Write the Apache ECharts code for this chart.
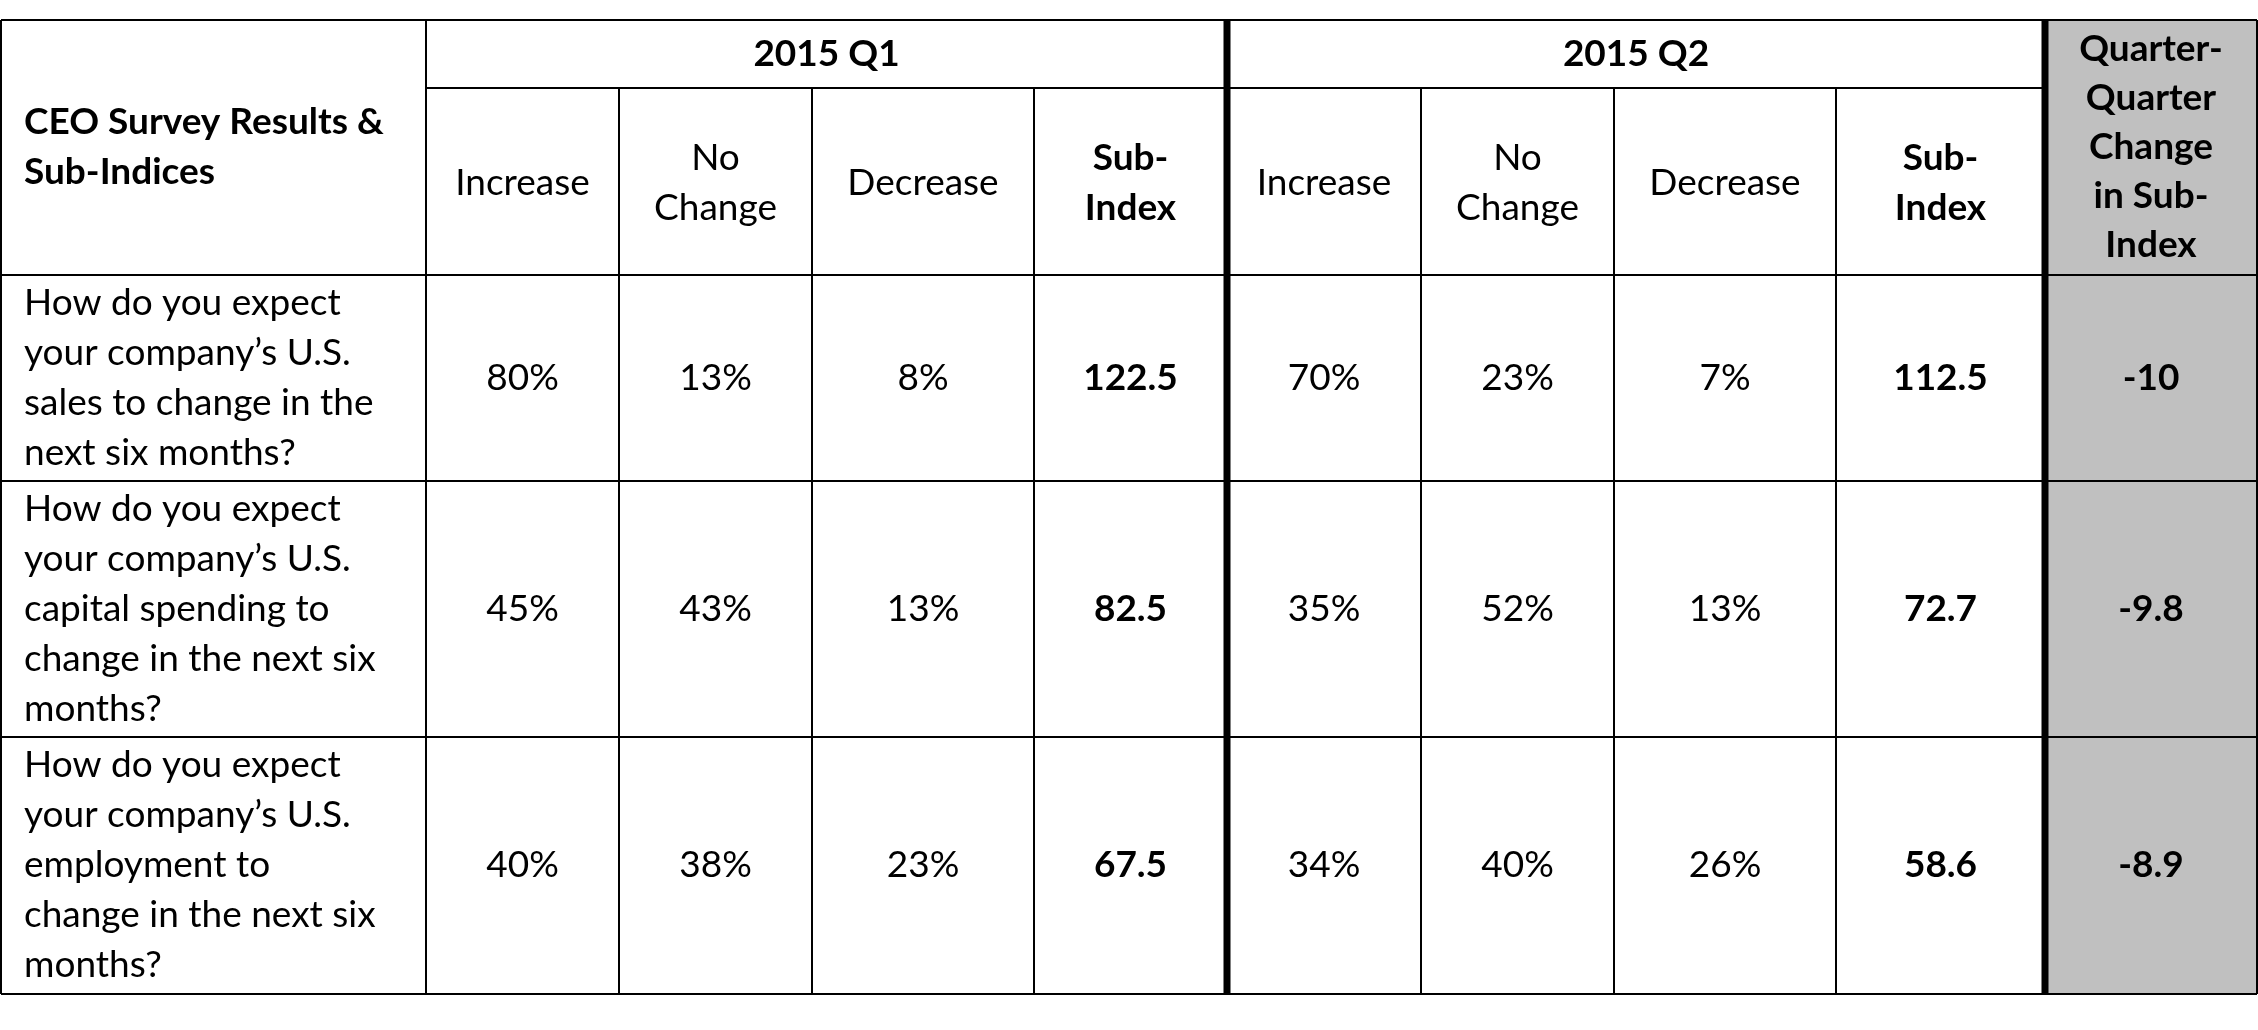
<!DOCTYPE html>
<html>
<head>
<meta charset="utf-8">
<script src="https://cdn.jsdelivr.net/npm/echarts@6/dist/echarts.min.js"></script>
<style>html,body{margin:0;background:#fff}#c{width:2258px;height:1030px}</style>
</head>
<body>
<div id="c"></div>
<script>
// table content
const title = 'CEO Survey Results &\nSub-Indices'
const groups = ['2015 Q1', '2015 Q2']
const subHeaders = ['Increase', 'No\nChange', 'Decrease', 'Sub-\nIndex']
const changeHeader = 'Quarter-\nQuarter\nChange\nin Sub-\nIndex'
const questions = [
  'How do you expect\nyour company\u2019s U.S.\nsales to change in the\nnext six months?',
  'How do you expect\nyour company\u2019s U.S.\ncapital spending to\nchange in the next six\nmonths?',
  'How do you expect\nyour company\u2019s U.S.\nemployment to\nchange in the next six\nmonths?'
]
const q1Values = [['80%', '13%', '8%', '122.5'], ['45%', '43%', '13%', '82.5'], ['40%', '38%', '23%', '67.5']]
const q2Values = [['70%', '23%', '7%', '112.5'], ['35%', '52%', '13%', '72.7'], ['34%', '40%', '26%', '58.6']]
const qoqChange = ['-10', '-9.8', '-8.9']

// grid layout
const colX = [1, 426, 619, 812, 1034, 1227, 1421, 1614, 1836, 2045, 2257]
const rowY = [20, 88, 275, 481, 737, 994]
const thick = [1, 5, 9]
const font = 'Lato, "Open Sans", sans-serif'

const els = []
function text(x, y, s, opt) {
  els.push({
    type: 'text', x: x, y: y, silent: true,
    style: Object.assign({
      text: s, fill: '#000', font: '37px ' + font, fontFamily: font, fontSize: 37,
      align: 'center', verticalAlign: 'middle', lineHeight: 50
    }, opt || {})
  })
}
function line(x1, y1, x2, y2, w) {
  els.push({ type: 'line', silent: true, shape: { x1: x1, y1: y1, x2: x2, y2: y2 }, style: { stroke: '#000', lineWidth: w } })
}

// gray change column
els.push({ type: 'rect', shape: { x: colX[9], y: rowY[0], width: colX[10] - colX[9], height: rowY[5] - rowY[0] }, style: { fill: '#c0c0c0' } })

const mid = (a, b) => (a + b) / 2
text(24, mid(rowY[0], rowY[2]), title, { align: 'left', fontWeight: 'bold' })
groups.forEach((g, i) => {
  text(mid(colX[1 + i * 4], colX[5 + i * 4]), mid(rowY[0], rowY[1]), g, { fontWeight: 'bold' })
  subHeaders.forEach((h, j) => {
    text(mid(colX[1 + i * 4 + j], colX[2 + i * 4 + j]), mid(rowY[1], rowY[2]) + 2, h, { fontWeight: j === 3 ? 'bold' : 'normal' })
  })
})
text(mid(colX[9], colX[10]), mid(rowY[0], rowY[2]), changeHeader, { fontWeight: 'bold', lineHeight: 49 })

questions.forEach((q, r) => {
  const cy = mid(rowY[2 + r], rowY[3 + r])
  text(24, cy, q, { align: 'left' })
  ;[q1Values[r], q2Values[r]].forEach((vals, i) => {
    vals.forEach((v, j) => {
      text(mid(colX[1 + i * 4 + j], colX[2 + i * 4 + j]), cy, v, { fontWeight: j === 3 ? 'bold' : 'normal' })
    })
  })
  text(mid(colX[9], colX[10]), cy, qoqChange[r], { fontWeight: 'bold' })
})

// grid lines
rowY.forEach((y, i) => {
  if (i === 1) { line(colX[1], y, colX[9], y, 2) } else { line(colX[0], y, colX[10], y, 2) }
})
colX.forEach((x, i) => {
  const top = (i === 0 || i === 1 || i === 5 || i === 9 || i === 10) ? rowY[0] : rowY[1]
  line(x, top, x, rowY[5], thick.indexOf(i) > 0 ? 7 : 2)
})

const chart = echarts.init(document.getElementById('c'))
chart.setOption({ animation: false, graphic: { elements: els } })
</script>
</body>
</html>
